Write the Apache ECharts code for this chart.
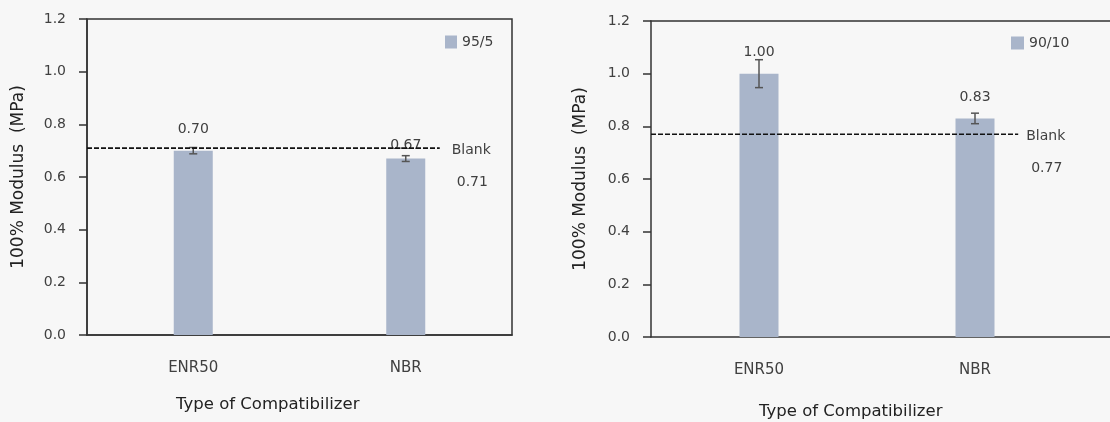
<!DOCTYPE html>
<html>
<head>
<meta charset="utf-8">
<script src="https://cdn.jsdelivr.net/npm/echarts@6/dist/echarts.min.js"></script>
<style>
  html, body { margin: 0; padding: 0; background: #f7f7f7; }
  #chart { width: 1110px; height: 422px; }
</style>
</head>
<body>
<div id="chart"></div>
<script>
// Compatibilizer types on the x axis
const categories = ['ENR50', 'NBR'];

// 95/5 blend: 100% modulus (MPa), standard deviation, blank reference
const modulus95 = [0.70, 0.67];
const error95 = [0.012, 0.011];
const blank95 = 0.71;

// 90/10 blend: 100% modulus (MPa), standard deviation, blank reference
const modulus90 = [1.00, 0.83];
const error90 = [0.053, 0.02];
const blank90 = 0.77;

// y axis range
const yMin = 0, yMax = 1.2, yStep = 0.2;

const FONT = 'DejaVu Sans';
const TEXT = '#404040';
const AXIS = '#333333';
const BAR = '#a9b5ca';

// label gaps above each bar
const labelGap95 = [14, 6];
const labelGap90 = [14, 14];
// where the dashed blank line ends, as a fraction of its frame width
const blankEnd95 = 0.83;
const blankEnd90 = 0.80;

const axisLineStyle = { color: AXIS, width: 1.5 };

function yAxisFor(gridIndex, nameGap) {
  return {
    type: 'value', gridIndex, min: yMin, max: yMax, interval: yStep,
    name: '100% Modulus  (MPa)', nameLocation: 'middle', nameGap,
    nameTextStyle: { fontFamily: FONT, fontSize: 17, color: '#222' },
    axisLine: { show: true, lineStyle: axisLineStyle },
    axisTick: { show: true, length: 8, lineStyle: axisLineStyle },
    splitLine: { show: false },
    axisLabel: { fontFamily: FONT, fontSize: 14, color: TEXT, margin: 21,
      formatter: v => v.toFixed(1) }
  };
}

function catAxisFor(gridIndex, showLine) {
  return {
    type: 'category', gridIndex, data: categories,
    axisLine: { show: showLine, lineStyle: axisLineStyle },
    axisTick: { show: false },
    axisLabel: { fontFamily: FONT, fontSize: 15, color: TEXT, margin: 26 }
  };
}

// plain value axis used as a frame edge (line only)
function frameAxis(gridIndex, position, showLine) {
  return {
    type: 'value', gridIndex, min: 0, max: 1, position,
    axisLine: { show: showLine, onZero: false, lineStyle: axisLineStyle },
    axisTick: { show: false }, axisLabel: { show: false }, splitLine: { show: false }
  };
}

function barSeries(name, values, gaps, xIdx, yIdx) {
  return {
    name, type: 'bar', xAxisIndex: xIdx, yAxisIndex: yIdx,
    barWidth: 39, itemStyle: { color: BAR },
    data: values.map((v, i) => ({
      value: v,
      label: { show: true, position: 'top', distance: gaps[i],
        fontFamily: FONT, fontSize: 14, color: TEXT,
        formatter: p => p.value.toFixed(2) }
    })),
    z: 2
  };
}

function errorSeries(values, errs, xIdx, yIdx) {
  return {
    type: 'custom', xAxisIndex: xIdx, yAxisIndex: yIdx,
    data: values.map((v, i) => [i, v, errs[i]]),
    renderItem: (params, api) => {
      const x = api.value(0), v = api.value(1), e = api.value(2);
      const hi = api.coord([x, v + e]);
      const lo = api.coord([x, v - e]);
      const w = 4;
      const style = { stroke: '#555', lineWidth: 1.5 };
      return {
        type: 'group',
        children: [
          { type: 'line', shape: { x1: hi[0], y1: hi[1], x2: lo[0], y2: lo[1] }, style },
          { type: 'line', shape: { x1: hi[0] - w, y1: hi[1], x2: hi[0] + w, y2: hi[1] }, style },
          { type: 'line', shape: { x1: lo[0] - w, y1: lo[1], x2: lo[0] + w, y2: lo[1] }, style }
        ]
      };
    },
    z: 3
  };
}

function blankSeries(value, end, xIdx, yIdx, gap) {
  return {
    type: 'line', xAxisIndex: xIdx, yAxisIndex: yIdx,
    symbol: 'none', silent: true,
    lineStyle: { color: '#111', width: 1.7, type: [5, 2] },
    data: [[0, value], [end, value]],
    endLabel: {
      show: true, distance: gap, offset: [0, 18],
      formatter: '{a|Blank}\n{b|' + value.toFixed(2) + '}',
      rich: {
        a: { fontFamily: FONT, fontSize: 14, color: TEXT, lineHeight: 32 },
        b: { fontFamily: FONT, fontSize: 14, color: TEXT, lineHeight: 32, padding: [0, 0, 0, 5] }
      }
    },
    z: 4
  };
}

const titleStyle = { fontFamily: FONT, fontSize: 16.5, fontWeight: 'normal', color: '#222' };
const legendText = { fontFamily: FONT, fontSize: 14, color: TEXT };

const chart = echarts.init(document.getElementById('chart'));
chart.setOption({
  backgroundColor: '#f7f7f7',
  animation: false,
  title: [
    { text: 'Type of Compatibilizer', left: 171, top: 391, textStyle: titleStyle },
    { text: 'Type of Compatibilizer', left: 754, top: 398, textStyle: titleStyle }
  ],
  legend: [
    { data: ['95/5'], left: 445, top: 35, padding: 0, icon: 'rect', itemWidth: 12, itemHeight: 13,
      itemGap: 5, textStyle: legendText },
    { data: ['90/10'], left: 1011, top: 36, padding: 0, icon: 'rect', itemWidth: 13, itemHeight: 13,
      itemGap: 5, textStyle: legendText }
  ],
  grid: [
    // left panel: boxed plot
    { left: 87, top: 19, width: 425, height: 316, show: true,
      borderColor: AXIS, borderWidth: 1.5, backgroundColor: 'transparent' },
    // right panel: bar area
    { left: 651, top: 21, width: 432, height: 316 },
    // right panel: frame running to the page edge
    { left: 651, top: 21, right: 0, height: 316 }
  ],
  xAxis: [
    catAxisFor(0, true),                 // 0
    frameAxis(0, 'bottom', false),       // 1: blank line, left
    catAxisFor(1, false),                // 2
    frameAxis(2, 'bottom', true),        // 3: right bottom edge + blank line
    frameAxis(2, 'top', true)            // 4: right top edge
  ],
  yAxis: [
    yAxisFor(0, 60),                     // 0
    yAxisFor(1, 62),                     // 1
    { type: 'value', gridIndex: 2, min: yMin, max: yMax, show: false } // 2
  ],
  series: [
    barSeries('95/5', modulus95, labelGap95, 0, 0),
    errorSeries(modulus95, error95, 0, 0),
    blankSeries(blank95, blankEnd95, 1, 0, 12),
    barSeries('90/10', modulus90, labelGap90, 2, 1),
    errorSeries(modulus90, error90, 2, 1),
    blankSeries(blank90, blankEnd90, 3, 2, 8)
  ]
});
</script>
</body>
</html>
